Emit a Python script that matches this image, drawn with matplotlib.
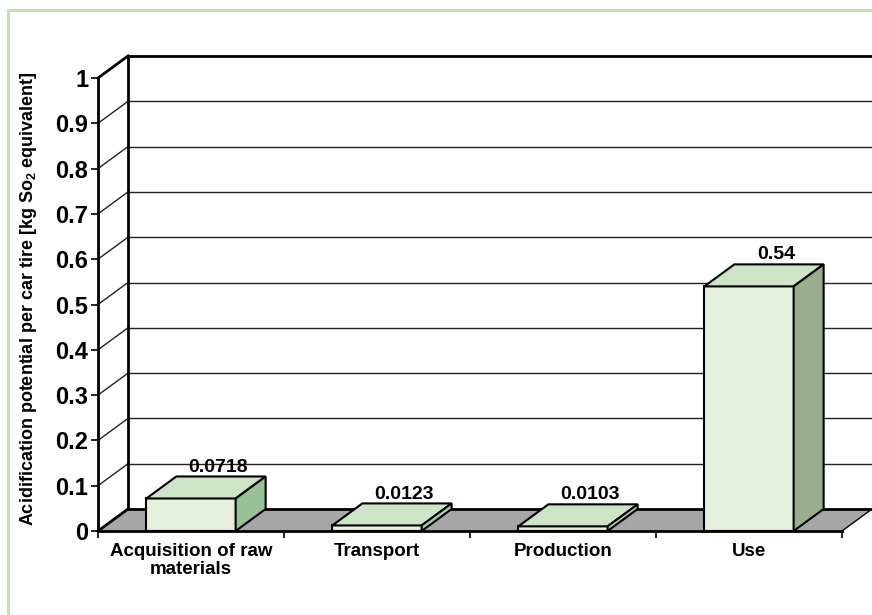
import matplotlib
matplotlib.use('Agg')
import matplotlib.pyplot as plt
from matplotlib.patches import Rectangle, Polygon

plt.rcParams['font.family'] = ['Liberation Sans', 'DejaVu Sans']
plt.rcParams['font.weight'] = 'bold'
plt.rcParams['mathtext.fontset'] = 'custom'
plt.rcParams['mathtext.rm'] = 'Liberation Sans:bold'
plt.rcParams['mathtext.bf'] = 'Liberation Sans:bold'
plt.rcParams['mathtext.it'] = 'Liberation Sans:bold'

# data
categories = ['Acquisition of raw\nmaterials', 'Transport', 'Production', 'Use']
values = [0.0718, 0.0123, 0.0103, 0.54]
value_labels = ['0.0718', '0.0123', '0.0103', '0.54']
yticks = [0, 0.1, 0.2, 0.3, 0.4, 0.5, 0.6, 0.7, 0.8, 0.9, 1]
ytick_labels = ['0', '0.1', '0.2', '0.3', '0.4', '0.5', '0.6', '0.7', '0.8', '0.9', '1']

# style
side_colors = ['#98c196', '#a9cfa2', '#a9cfa2', '#9aae8f']
front_color = '#e4efdc'
top_color = '#cde4c6'
floor_color = '#a6a6a6'
bar_w = 0.48
dx = 30 / 186   # depth offset in category units
dy = 22 / 453   # depth offset in value units

fig = plt.figure(figsize=(8.72, 6.15), dpi=100)
fig.patches.append(Rectangle((8 / 872, -0.1), 1.0, (615 - 10) / 615 + 0.1,
                             transform=fig.transFigure, fill=False,
                             edgecolor='#c6dfb4', lw=2.2))

ax = fig.add_axes([98 / 872, 84 / 615, 744 / 872, 453 / 615])
ax.set_xlim(-0.5, 3.5)
ax.set_ylim(0, 1)
ax.patch.set_visible(False)

# back wall + side wall gridlines
for v in yticks:
    lw = 2 if v == 1 else 1
    col = 'black' if v == 1 else '#222222'
    if v > 0:
        ax.plot([-0.5, -0.5 + dx], [v, v + dy], color=col, lw=lw, clip_on=False, zorder=1)
        ax.plot([-0.5 + dx, 3.5 + dx], [v + dy, v + dy], color=col, lw=lw, clip_on=False, zorder=1)
ax.plot([-0.5 + dx, -0.5 + dx], [dy, 1 + dy], color='black', lw=2, clip_on=False, zorder=1)

# floor
ax.add_patch(Polygon([(-0.5, 0), (3.5, 0), (3.5 + dx, dy), (-0.5 + dx, dy)],
                     closed=True, facecolor=floor_color, edgecolor='none', clip_on=False, zorder=1.5))
ax.plot([-0.5 + dx, 3.5 + dx], [dy, dy], color='black', lw=2, clip_on=False, zorder=1.6)
ax.plot([-0.5, -0.5 + dx], [0, dy], color='black', lw=2, clip_on=False, zorder=1.6)
ax.plot([3.5, 3.5 + dx], [0, dy], color='black', lw=1, clip_on=False, zorder=1.6)

# bars
for i, v in enumerate(values):
    x0 = i - bar_w / 2
    x1 = i + bar_w / 2
    ax.add_patch(Rectangle((x0, 0), bar_w, v, facecolor=front_color,
                           edgecolor='black', lw=1.5, clip_on=False, zorder=3))
    ax.add_patch(Polygon([(x0, v), (x1, v), (x1 + dx, v + dy), (x0 + dx, v + dy)],
                         closed=True, facecolor=top_color, edgecolor='black',
                         lw=1.5, clip_on=False, zorder=3))
    ax.add_patch(Polygon([(x1, 0), (x1 + dx, dy), (x1 + dx, v + dy), (x1, v)],
                         closed=True, facecolor=side_colors[i], edgecolor='black',
                         lw=1.5, clip_on=False, zorder=3))
    ax.text(i + 0.145, v + dy + 0.002, value_labels[i], ha='center', va='bottom',
            fontsize=14, fontweight='bold', zorder=4)

# axes
for s in ['top', 'right']:
    ax.spines[s].set_visible(False)
ax.spines['left'].set_linewidth(2)
ax.spines['bottom'].set_linewidth(2)
ax.spines['left'].set_zorder(2)
ax.spines['bottom'].set_zorder(2)

ax.set_yticks(yticks)
ax.set_yticklabels(ytick_labels, fontsize=17, fontweight='bold')
ax.tick_params(axis='y', direction='out', length=5, width=1.2, pad=2)

ax.set_xticks(range(len(categories)))
ax.set_xticklabels(categories, fontsize=13.5, fontweight='bold', linespacing=1.0)
ax.set_xticks([-0.5, 0.5, 1.5, 2.5, 3.5], minor=True)
ax.tick_params(axis='x', which='major', length=0, pad=9)
ax.tick_params(axis='x', which='minor', direction='out', length=5, width=1.2)

ax.set_ylabel('Acidification potential per car tire [kg So$_2$ equivalent]',
              fontsize=13, fontweight='bold')
ax.yaxis.set_label_coords(-(98 - 39) / 744, 0.514)

fig.savefig('out.png', dpi=100)
